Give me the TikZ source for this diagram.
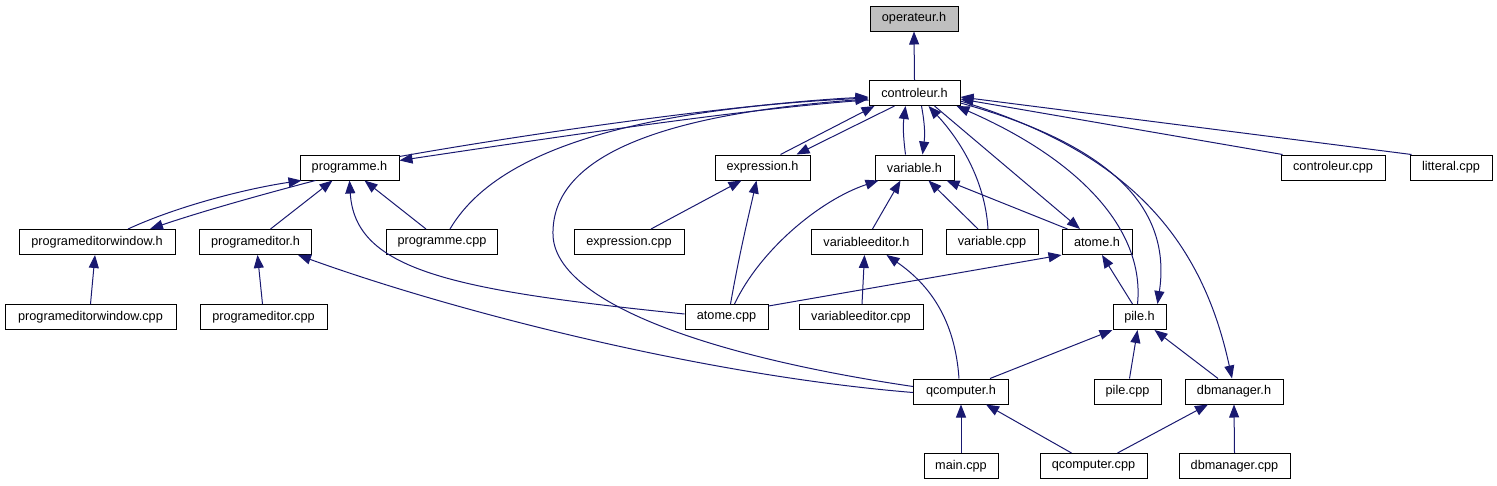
\documentclass[tikz,border=0pt]{standalone}
\usepackage{fontspec}
\setmainfont{Liberation Sans}
\usetikzlibrary{arrows.meta,calc}
\definecolor{edgeblue}{HTML}{191970}
\definecolor{rootgray}{HTML}{BFBFBF}
\begin{document}
\begin{tikzpicture}[x=1pt,y=-1pt,
  fbox/.style={draw=black,line width=1pt,fill=white,minimum height=25pt,inner sep=0pt,
    font=\fontsize{12.7}{15}\selectfont},
  e/.style={draw=edgeblue,line width=1pt,-{Triangle[length=13pt,width=10pt]}}]
\useasboundingbox (0,0) rectangle (1497,485);
% row 1-2
\node[fbox,fill=rootgray,minimum width=88pt] (oper) at (914,18.5) {operateur.h};
\node[fbox,minimum width=91pt] (ctrl) at (914.5,93) {controleur.h};
% row 3
\node[fbox,minimum width=99pt] (prog) at (349.5,167.5) {programme.h};
\node[fbox,minimum width=95pt] (expr) at (762.5,167.5) {expression.h};
\node[fbox,minimum width=79pt] (var) at (914.5,167.5) {variable.h};
\node[fbox,minimum width=104pt] (ccpp) at (1333,167.5) {controleur.cpp};
\node[fbox,minimum width=82pt] (lit) at (1451,167.5) {litteral.cpp};
% row 4
\node[fbox,minimum width=156pt] (pewh) at (97,242) {programeditorwindow.h};
\node[fbox,minimum width=112pt] (peh) at (255.5,242) {programeditor.h};
\node[fbox,minimum width=111.5pt] (pcpp) at (442,242) {programme.cpp};
\node[fbox,minimum width=110pt] (ecpp) at (629,242) {expression.cpp};
\node[fbox,minimum width=111pt] (veh) at (866.5,242) {variableeditor.h};
\node[fbox,minimum width=92pt] (vcpp) at (992,242) {variable.cpp};
\node[fbox,minimum width=70pt] (atomh) at (1097,242) {atome.h};
% row 5
\node[fbox,minimum width=171pt] (pewc) at (90.5,317) {programeditorwindow.cpp};
\node[fbox,minimum width=127pt] (pec) at (263.5,317) {programeditor.cpp};
\node[fbox,minimum width=83pt] (acpp) at (726.5,317) {atome.cpp};
\node[fbox,minimum width=124pt] (vec) at (861,317) {variableeditor.cpp};
\node[fbox,minimum width=53pt] (pileh) at (1139.5,317) {pile.h};
% row 6
\node[fbox,minimum width=95pt] (qch) at (961,391.5) {qcomputer.h};
\node[fbox,minimum width=67pt] (pilec) at (1127.5,391.5) {pile.cpp};
\node[fbox,minimum width=98pt] (dbh) at (1234,391.5) {dbmanager.h};
% row 7
\node[fbox,minimum width=74pt] (main) at (961,466) {main.cpp};
\node[fbox,minimum width=107pt] (qcc) at (1093.5,466) {qcomputer.cpp};
\node[fbox,minimum width=111pt] (dbc) at (1234.5,466) {dbmanager.cpp};

% edges
\draw[e] (ctrl.north) -- (oper.south);
\draw[e] ($(prog.north east)+(0,2)$) .. controls (550,130) and (750,103) .. ($(ctrl.west)+(0,4)$);
\draw[e] ($(ctrl.west)+(0,7)$) .. controls (750,108) and (550,138) .. ($(prog.east)+(0,-7)$);
\draw[e] ($(pcpp.north)+(8,0)$) .. controls (485,170) and (580,112) .. ($(ctrl.west)+(0,5)$);
\draw[e] ($(qch.west)+(0,-5)$) .. controls (700,355) and (555,300) .. (553,235) .. controls (551,160) and (650,115) .. ($(ctrl.west)+(0,6)$);
\draw[e] ($(expr.north)+(18,0)$) -- ($(ctrl.south west)+(6,0)$);
\draw[e] ($(ctrl.south west)+(26,0)$) -- ($(expr.north)+(34,0)$);
\draw[e] ($(var.north)+(-9,0)$) .. controls (903,135) and (903,125) .. ($(ctrl.south)+(-9,0)$);
\draw[e] ($(ctrl.south)+(7,0)$) .. controls (925,125) and (925,135) .. ($(var.north)+(8,0)$);
\draw[e] ($(vcpp.north)+(-4,0)$) .. controls (985,180) and (960,140) .. ($(ctrl.south)+(14,0)$);
\draw[e] ($(ctrl.south)+(20,0)$) -- ($(atomh.north)+(-17,0)$);
\draw[e] ($(pileh.north)+(-2,0)$) .. controls (1145,230) and (1080,160) .. ($(ctrl.south east)+(-4,0)$);
\draw[e] ($(ctrl.east)+(0,10)$) .. controls (1130,150) and (1170,220) .. ($(pileh.north)+(18,0)$);
\draw[e] ($(ctrl.east)+(0,8)$) .. controls (1120,150) and (1200,230) .. ($(dbh.north)+(-2,0)$);
\draw[e] ($(ccpp.north west)+(2,0)$) -- ($(ctrl.east)+(0,6)$);
\draw[e] ($(lit.north west)+(2,0)$) -- ($(ctrl.east)+(0,4)$);
\draw[e] ($(pewh.north)+(31,0)$) .. controls (180,205) and (250,188) .. ($(prog.south west)+(2,0)$);
\draw[e] ($(prog.south west)+(16,0)$) .. controls (260,195) and (200,212) .. ($(pewh.north)+(53,0)$);
\draw[e] ($(peh.north)+(15,0)$) -- ($(prog.south)+(-17,0)$);
\draw[e] ($(acpp.west)+(0,-3)$) .. controls (450,290) and (355,270) .. (prog.south);
\draw[e] ($(pcpp.north)+(-16,0)$) -- ($(prog.south)+(15,0)$);
\draw[e] (pewc.north) -- ($(pewh.south)+(-2,0)$);
\draw[e] ($(pec.north)+(-1,0)$) -- ($(peh.south)+(2,0)$);
\draw[e] ($(qch.west)+(0,1)$) .. controls (700,375) and (450,310) .. ($(peh.south east)+(-14,0)$);
\draw[e] ($(ecpp.north)+(22,0)$) -- ($(expr.south)+(-21,0)$);
\draw[e] ($(acpp.north)+(4,0)$) .. controls (740,250) and (750,210) .. ($(expr.south)+(-6,0)$);
\draw[e] ($(acpp.north)+(8,0)$) .. controls (760,250) and (820,200) .. ($(var.south west)+(4,0)$);
\draw[e] ($(veh.north)+(6,0)$) -- ($(var.south)+(-14,0)$);
\draw[e] ($(vcpp.north)+(-14,0)$) -- ($(var.south)+(14,0)$);
\draw[e] ($(atomh.north west)+(6,0)$) -- ($(var.south east)+(-8,0)$);
\draw[e] ($(acpp.north east)+(0,2)$) -- (atomh.south west);
\draw[e] ($(pileh.north)+(-7,0)$) -- ($(atomh.south)+(5,0)$);
\draw[e] ($(vec.north)+(1,0)$) -- ($(veh.south)+(-2,0)$);
\draw[e] ($(qch.north)+(-2,0)$) .. controls (955,320) and (930,285) .. ($(veh.south)+(20,0)$);
\draw[e] ($(qch.north)+(29,0)$) -- (pileh.south west);
\draw[e] ($(pilec.north)+(2,0)$) -- ($(pileh.south)+(-2,0)$);
\draw[e] ($(dbh.north)+(-16,0)$) -- ($(pileh.south east)+(-12,0)$);
\draw[e] (main.north) -- (qch.south);
\draw[e] ($(qcc.north)+(-22,0)$) -- ($(qch.south)+(25,0)$);
\draw[e] ($(qcc.north)+(24,0)$) -- ($(dbh.south)+(-26,0)$);
\draw[e] (dbc.north) -- (dbh.south);
\end{tikzpicture}
\end{document}
